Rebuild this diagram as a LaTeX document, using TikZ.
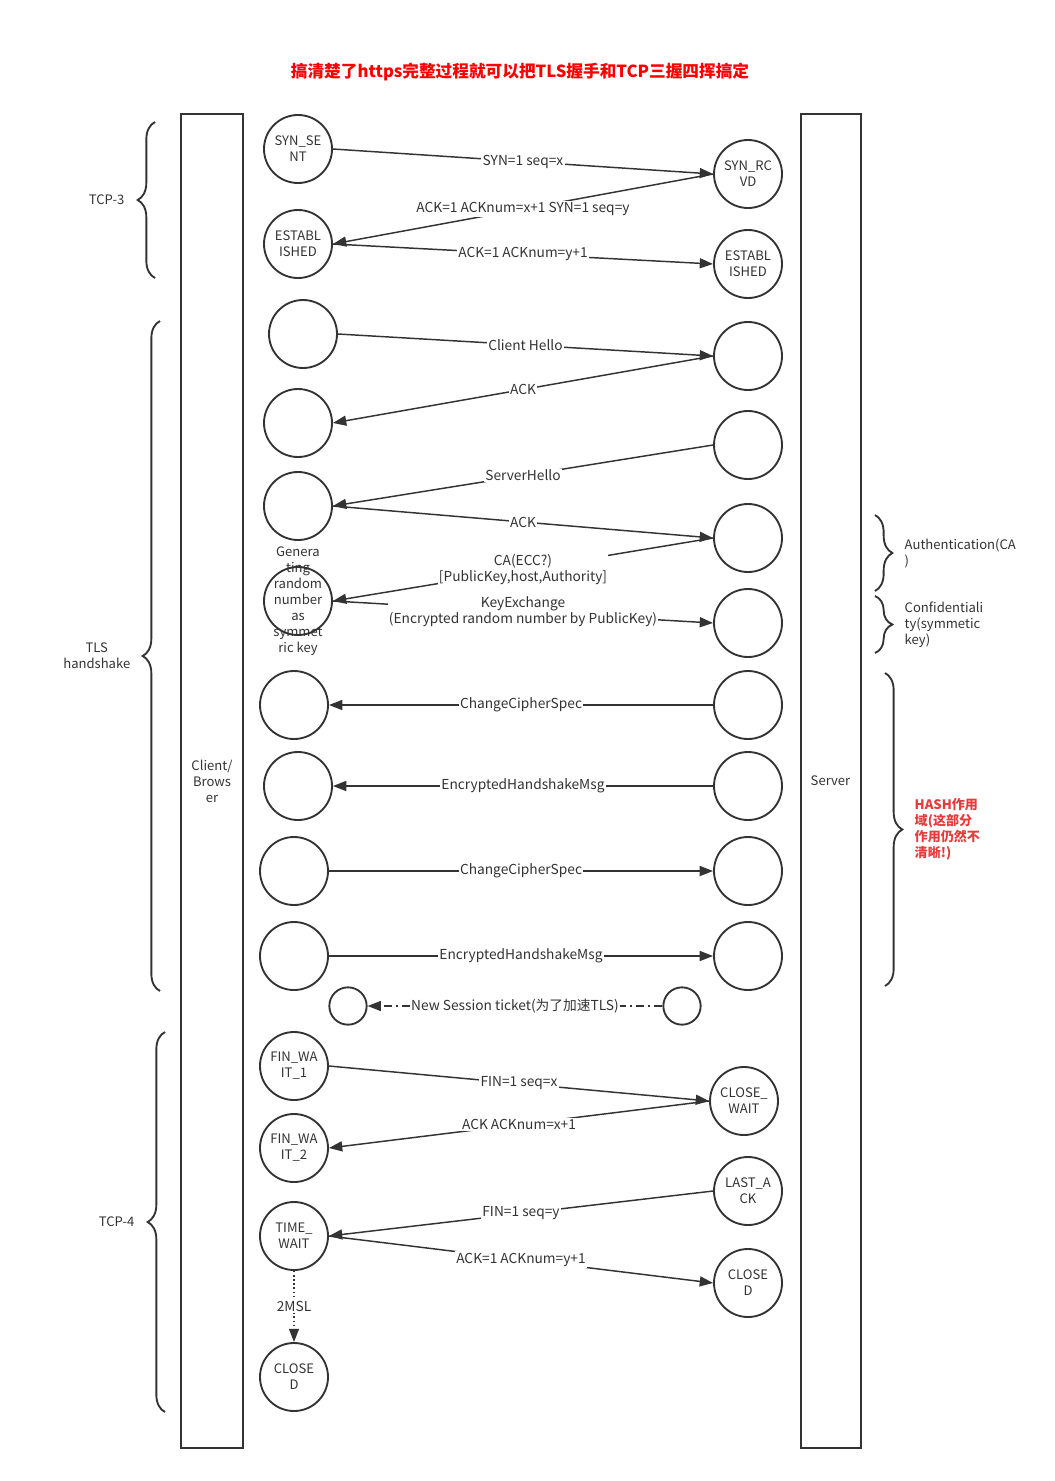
\documentclass[tikz,border=0pt]{standalone}
\usepackage{fontspec}
\setmainfont{Noto Sans CJK SC}
\usetikzlibrary{arrows.meta,positioning,decorations.pathreplacing}
\definecolor{lnblack}{HTML}{333333}
\definecolor{ttlred}{HTML}{FF0000}
\definecolor{hashred}{HTML}{E83A3A}

\begin{document}
\begin{tikzpicture}[x=0.75pt, y=-0.75pt,
    st/.style={circle, draw=lnblack, line width=1.4pt, minimum size=51pt,
               inner sep=0pt, align=center, text=lnblack,
               font=\fontsize{9.8}{12}\selectfont},
    sml/.style={st, minimum size=28pt},
    lane/.style={draw=lnblack, line width=1.5pt, minimum width=47pt,
                 minimum height=1000pt, align=center, text=lnblack,
                 font=\fontsize{9.8}{12}\selectfont},
    arr/.style={-{Triangle[length=10pt, width=7.5pt]}, line width=1.1pt, draw=lnblack},
    lbl/.style={fill=white, inner sep=1pt, text=lnblack, align=center,
                font=\fontsize{10.3}{12}\selectfont},
    brc/.style={decorate, decoration={brace, amplitude=13pt}, line width=1.4pt, draw=lnblack},
    side/.style={text=lnblack, font=\fontsize{9.8}{12}\selectfont}
]
  \useasboundingbox (0,0) rectangle (1054,1481);
  % Title
  \node[text=ttlred, font=\fontsize{12.5}{15}\selectfont\bfseries] (title) at (520,72)
    {搞清楚了https完整过程就可以把TLS握手和TCP三握四挥搞定};
  % Lanes
  \node[lane] (client) at (212,781) {Client/\\Brows\\er};
  \node[lane, minimum width=45pt] (server) at (830.5,781) {Server};

  % TCP three-way handshake
  \node[st] (synsent) at (298,149) {SYN\_SE\\NT};
  \node[st] (synrcvd) at (748,174) {SYN\_RC\\VD};
  \node[st] (estc) at (298,244) {ESTABL\\ISHED};
  \node[st] (ests) at (748,264) {ESTABL\\ISHED};
  \draw[arr] (synsent.east) -- node[lbl] {SYN=1 seq=x} (synrcvd.west);
  \draw[arr] (synrcvd.west) -- node[lbl] {ACK=1 ACKnum=x+1 SYN=1 seq=y} (estc.east);
  \draw[arr] (estc.east) -- node[lbl] {ACK=1 ACKnum=y+1} (ests.west);

  % TLS handshake
  \node[st] (hc) at (303,334) {};
  \node[st] (hs) at (748,356) {};
  \node[st] (ackc) at (298,423) {};
  \node[st] (shs) at (748,445) {};
  \node[st] (shc) at (298,506) {};
  \node[st] (cas) at (748,538) {};
  \node[st] (kc) at (298,601) {};
  \node[lbl, fill=none, font=\fontsize{9.8}{12}\selectfont] (kcnote) at (kc.center)
    {Genera\\ting\\random\\number\\as\\symmet\\ric key};
  \node[st] (ks) at (748,623) {};
  \draw[arr] (hc.east) -- node[lbl] {Client Hello} (hs.west);
  \draw[arr] (hs.west) -- node[lbl] {ACK} (ackc.east);
  \draw[arr] (shs.west) -- node[lbl] {ServerHello} (shc.east);
  \draw[arr] (shc.east) -- node[lbl] {ACK} (cas.west);
  \draw[arr] (cas.west) -- node[lbl] {CA(ECC?)\\{}[PublicKey,host,Authority]} (kc.east);
  \draw[arr] (kc.east) -- node[lbl] {KeyExchange\\(Encrypted random number by PublicKey)} (ks.west);

  % Finished messages
  \node[st] (ccs1c) at (294,705) {};
  \node[st] (ccs1s) at (748,705) {};
  \node[st] (ehm1c) at (298,786) {};
  \node[st] (ehm1s) at (748,786) {};
  \node[st] (ccs2c) at (294,871) {};
  \node[st] (ccs2s) at (748,871) {};
  \node[st] (ehm2c) at (294,956) {};
  \node[st] (ehm2s) at (748,956) {};
  \draw[arr] (ccs1s.west) -- node[lbl] {ChangeCipherSpec} (ccs1c.east);
  \draw[arr] (ehm1s.west) -- node[lbl] {EncryptedHandshakeMsg} (ehm1c.east);
  \draw[arr] (ccs2c.east) -- node[lbl] {ChangeCipherSpec} (ccs2s.west);
  \draw[arr] (ehm2c.east) -- node[lbl] {EncryptedHandshakeMsg} (ehm2s.west);

  % Session ticket
  \node[sml] (tkc) at (348,1006) {};
  \node[sml] (tks) at (682,1006) {};
  \draw[arr, dash pattern=on 6pt off 3pt on 1.5pt off 3pt] (tks.west) --
    node[lbl] {New Session ticket(为了加速TLS)} (tkc.east);

  % TCP four-way close
  \node[st] (fw1) at (294,1066) {FIN\_WA\\IT\_1};
  \node[st] (cw) at (744,1101) {CLOSE\_\\WAIT};
  \node[st] (fw2) at (294,1148) {FIN\_WA\\IT\_2};
  \node[st] (la) at (748,1191) {LAST\_A\\CK};
  \node[st] (tw) at (294,1236) {TIME\_\\WAIT};
  \node[st] (cls) at (748,1283) {CLOSE\\D};
  \node[st] (clc) at (294,1377) {CLOSE\\D};
  \draw[arr] (fw1.east) -- node[lbl] {FIN=1 seq=x} (cw.west);
  \draw[arr] (cw.west) -- node[lbl] {ACK ACKnum=x+1} (fw2.east);
  \draw[arr] (la.west) -- node[lbl] {FIN=1 seq=y} (tw.east);
  \draw[arr] (tw.east) -- node[lbl] {ACK=1 ACKnum=y+1} (cls.west);
  \draw[arr, dotted] (tw.south) -- node[lbl] {2MSL} (clc.north);

  % Braces on the left
  \draw[brc] (155,278) -- (155,122);
  \node[side, anchor=east] (tcp3) at (129,200) {TCP-3};
  \draw[brc] (160,991) -- (160,321);
  \node[side, anchor=east, align=center] (tls) at (135,656) {TLS\\handshake};
  \draw[brc] (165,1412) -- (165,1032);
  \node[side, anchor=east] (tcp4) at (139,1222) {TCP-4};

  % Braces on the right
  \draw[brc] (875,515) -- (875,591);
  \node[side, anchor=west, align=left] (auth) at (900,553) {Authentication(CA\\)};
  \draw[brc] (875,596) -- (875,653);
  \node[side, anchor=west, align=left] (conf) at (900,625) {Confidentiali\\ty(symmetic\\key)};
  \draw[brc] (885,673) -- (885,986);
  \node[side, anchor=west, align=left, text=hashred, font=\fontsize{9.8}{12}\selectfont\bfseries]
    (hash) at (910,829) {HASH作用\\域(这部分\\作用仍然不\\清晰!)};
\end{tikzpicture}
\end{document}
